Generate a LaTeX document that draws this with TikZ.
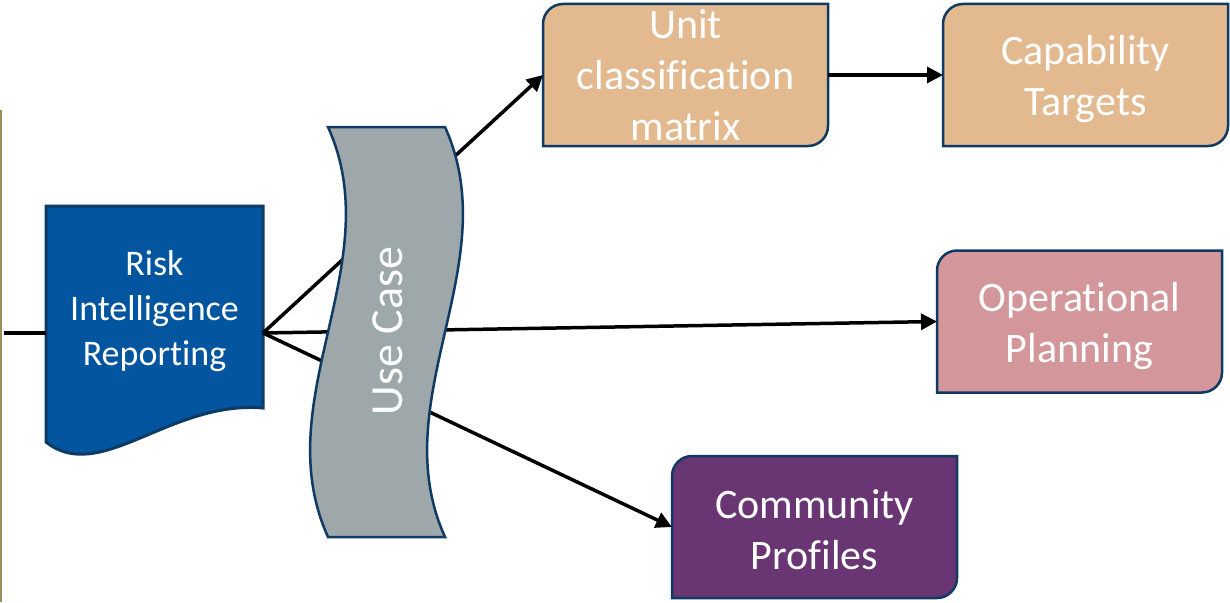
\documentclass[tikz,border=0pt]{standalone}
\usepackage{fontspec}
\setmainfont{Carlito}[Ligatures=NoCommon]
\usetikzlibrary{arrows.meta,calc}
\definecolor{navy}{HTML}{0E3A63}
\definecolor{docblue}{HTML}{02559E}
\definecolor{tanfill}{HTML}{E3B98F}
\definecolor{rosefill}{HTML}{D3969A}
\definecolor{plumfill}{HTML}{6A3573}
\definecolor{wavegray}{HTML}{9EA7AA}
\definecolor{oliveline}{HTML}{9C8F5A}
\pgfdeclarelayer{shapes}
\pgfdeclarelayer{lines}
\pgfdeclarelayer{wavelayer}
\pgfsetlayers{shapes,lines,wavelayer,main}
\tikzset{
  area/.style={inner sep=0pt, outer sep=0pt},
  boxtext/.style={area, minimum width=285pt, minimum height=142pt, text=white, align=center, font=\fontsize{42}{51}\selectfont},
  border/.style={draw=navy, line width=2.5pt},
  conn/.style={line width=3.5pt, draw=black},
  arr/.style={conn, -{Triangle[length=16pt,width=16pt]}},
}
\newcommand\diagpath[1]{([yshift=-20pt]#1.north west) .. controls ([yshift=-9pt]#1.north west) and ([xshift=9pt]#1.north west) .. ([xshift=20pt]#1.north west) -- (#1.north east) -- ([yshift=20pt]#1.south east) .. controls ([yshift=9pt]#1.south east) and ([xshift=-9pt]#1.south east) .. ([xshift=-20pt]#1.south east) -- (#1.south west) -- cycle}
\begin{document}
\begin{tikzpicture}[x=1pt,y=-1pt]
\useasboundingbox (0,0) rectangle (1230,602);
% boxes (shape areas)
\node[area, minimum width=285pt, minimum height=142pt] (unit) at (685.5,75) {};
\node[area, minimum width=285pt, minimum height=142pt] (cap) at (1085.5,75) {};
\node[area, minimum width=285pt, minimum height=142pt] (ops) at (1079.5,321.5) {};
\node[area, minimum width=285pt, minimum height=142pt] (comm) at (814.5,527) {};
\begin{pgfonlayer}{shapes}
  \draw[border, fill=tanfill] \diagpath{unit};
  \draw[border, fill=tanfill] \diagpath{cap};
  \draw[border, fill=rosefill] \diagpath{ops};
  \draw[border, fill=plumfill] \diagpath{comm};
\end{pgfonlayer}
% box labels
\node[boxtext] (unitlabel) at (685.5,75) {Unit\\classification\\matrix};
\node[boxtext] (caplabel) at (1085.5,79) {Capability\\Targets};
\node[boxtext] (opslabel) at (1079.5,326) {Operational\\Planning};
\node[boxtext] (commlabel) at (814.5,530) {Community\\Profiles};
% left rule
\draw[oliveline, line width=2.5pt] (1,110) -- (1,602);
% document shape
\node[area, minimum width=217pt, minimum height=254pt] (risk) at (154.5,333) {};
\begin{pgfonlayer}{shapes}
  \draw[draw=navy, line width=3pt, fill=docblue] (risk.north west) -- (risk.north east) -- ([yshift=52pt]risk.south east)
    .. controls (170,400) and (100,485) .. ([yshift=18pt]risk.south west) -- cycle;
\end{pgfonlayer}
\node[area, text=white, align=center, font=\fontsize{36}{45}\selectfont] (risklabel) at (154.5,311) {Risk\\Intelligence\\Reporting};
% connectors
\coordinate (inlet) at (4,333);
\begin{pgfonlayer}{lines}
  \draw[conn] (inlet) -- (risk.west);
  \draw[arr] (risk.east) -- (unit.west);
  \draw[arr] (risk.east) -- (ops.west);
  \draw[arr] (risk.east) -- (comm.west);
  \draw[arr] (unit.east) -- (cap.west);
\end{pgfonlayer}
% wave
\begin{pgfonlayer}{wavelayer}
  \draw[draw=navy, line width=2.5pt, fill=wavegray] (328,127) .. controls (390,264) and (266,400) .. (328,537) -- (445,537) .. controls (383,400) and (507,264) .. (445,127) -- cycle;
\end{pgfonlayer}
\node[area, rotate=90, text=white, font=\fontsize{46}{55}\selectfont] (usecase) at (388,331) {Use Case};
\end{tikzpicture}
\end{document}
